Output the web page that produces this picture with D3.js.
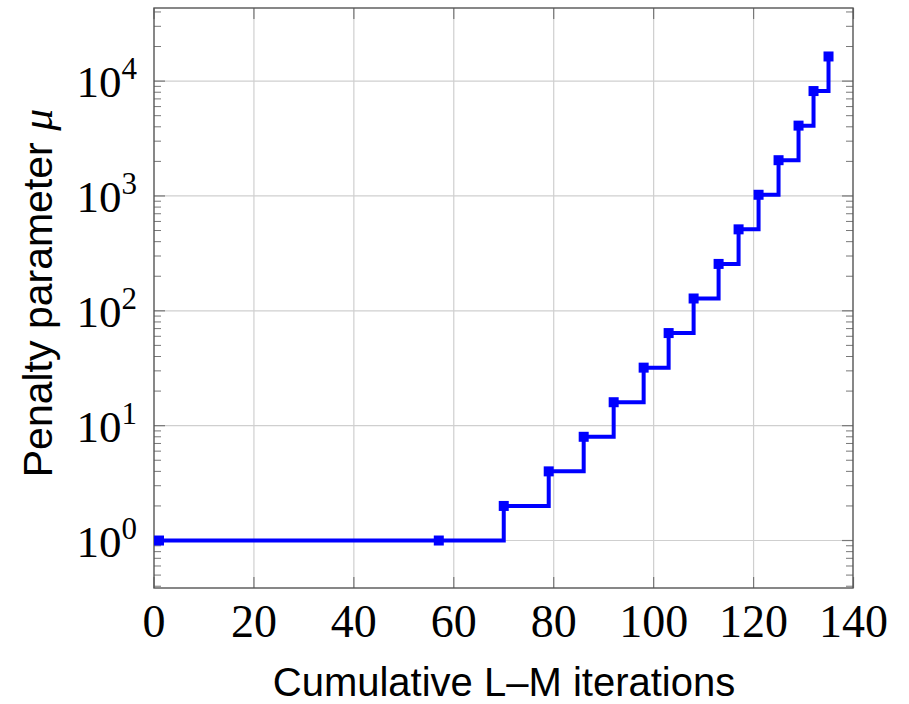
<!DOCTYPE html>
<html>
<head>
<meta charset="utf-8">
<script src="https://cdn.jsdelivr.net/npm/d3@7"></script>
<style>
  body { margin: 0; background: #fff; }
  svg { display: block; }
</style>
</head>
<body>
<svg id="chart" width="909" height="704"></svg>
<script>
// data
var iterations = [1, 57, 70, 79, 86, 92, 98, 103, 108, 113, 117, 121, 125, 129, 132, 135];
var mu = [1, 1, 2, 4, 8, 16, 32, 64, 128, 256, 512, 1024, 2048, 4096, 8192, 16384];
var xTicks = [0, 20, 40, 60, 80, 100, 120, 140];
var yTickExps = [0, 1, 2, 3, 4];

var svg = d3.select("#chart");
var pLeft = 154, pRight = 853, pTop = 8, pBottom = 588;

var x = d3.scaleLinear().domain([0, 140]).range([pLeft, pRight + 0.5]);
var y = d3.scaleLog().domain([0.386, 43300]).range([pBottom, pTop]);

var data = iterations.map(function(d, i) { return {it: d, mu: mu[i]}; });

var g = svg.append("g");

// grid
g.selectAll(".vgrid")
    .data(xTicks.filter(function(d) { return d > 0 && d < 140; }))
    .enter().append("line")
    .attr("x1", function(d) { return x(d); })
    .attr("x2", function(d) { return x(d); })
    .attr("y1", pTop).attr("y2", pBottom)
    .attr("stroke", "#cfcfcf").attr("stroke-width", 1.2);

g.selectAll(".hgrid")
    .data(yTickExps)
    .enter().append("line")
    .attr("x1", pLeft).attr("x2", pRight)
    .attr("y1", function(d) { return y(Math.pow(10, d)); })
    .attr("y2", function(d) { return y(Math.pow(10, d)); })
    .attr("stroke", "#cfcfcf").attr("stroke-width", 1.2);

// minor y ticks (both sides, inward)
var minor = [];
for (var e = -1; e <= 4; e++) {
    for (var k = 2; k <= 9; k++) {
        var v = k * Math.pow(10, e);
        if (v > y.domain()[0] && v < y.domain()[1]) minor.push(v);
    }
}
var tickCol = "#777";
minor.forEach(function(v) {
    g.append("line").attr("x1", pLeft).attr("x2", pLeft + 7)
        .attr("y1", y(v)).attr("y2", y(v)).attr("stroke", tickCol).attr("stroke-width", 1);
    g.append("line").attr("x1", pRight).attr("x2", pRight - 7)
        .attr("y1", y(v)).attr("y2", y(v)).attr("stroke", tickCol).attr("stroke-width", 1);
});

// major y ticks
yTickExps.forEach(function(d) {
    var yy = y(Math.pow(10, d));
    g.append("line").attr("x1", pLeft).attr("x2", pLeft + 11)
        .attr("y1", yy).attr("y2", yy).attr("stroke", tickCol).attr("stroke-width", 1.2);
    g.append("line").attr("x1", pRight).attr("x2", pRight - 11)
        .attr("y1", yy).attr("y2", yy).attr("stroke", tickCol).attr("stroke-width", 1.2);
});

// major x ticks
xTicks.forEach(function(d) {
    var xx = x(d);
    g.append("line").attr("x1", xx).attr("x2", xx)
        .attr("y1", pBottom).attr("y2", pBottom - 11).attr("stroke", tickCol).attr("stroke-width", 1.2);
    g.append("line").attr("x1", xx).attr("x2", xx)
        .attr("y1", pTop).attr("y2", pTop + 11).attr("stroke", tickCol).attr("stroke-width", 1.2);
});

// frame
g.append("rect")
    .attr("x", pLeft).attr("y", pTop)
    .attr("width", pRight - pLeft).attr("height", pBottom - pTop)
    .attr("fill", "none").attr("stroke", "#555").attr("stroke-width", 1.4);

// step line
var line = d3.line()
    .x(function(d) { return x(d.it); })
    .y(function(d) { return y(d.mu); })
    .curve(d3.curveStepAfter);

g.append("path")
    .datum(data)
    .attr("d", line)
    .attr("fill", "none")
    .attr("stroke", "#0000ff")
    .attr("stroke-width", 4);

g.selectAll(".mark")
    .data(data)
    .enter().append("rect")
    .attr("x", function(d) { return x(d.it) - 5; })
    .attr("y", function(d) { return y(d.mu) - 5; })
    .attr("width", 10).attr("height", 10)
    .attr("fill", "#0000ff");

// tick labels
g.selectAll(".xlab")
    .data(xTicks)
    .enter().append("text")
    .attr("x", function(d) { return x(d); })
    .attr("y", 637)
    .attr("text-anchor", "middle")
    .style("font-family", "'Liberation Serif', serif")
    .style("font-size", "46px")
    .text(function(d) { return d; });

yTickExps.forEach(function(d) {
    var t = g.append("text")
        .attr("x", 137)
        .attr("y", y(Math.pow(10, d)) + 16)
        .attr("text-anchor", "end")
        .style("font-family", "'Liberation Serif', serif")
        .style("font-size", "45px");
    t.append("tspan").text("10");
    t.append("tspan").attr("dy", -18).style("font-size", "31px").text(d);
});

// axis titles
svg.append("text")
    .attr("x", 504)
    .attr("y", 696)
    .attr("text-anchor", "middle")
    .style("font-family", "'Liberation Sans', sans-serif")
    .style("font-size", "40px")
    .text("Cumulative L\u2013M iterations");

var yt = svg.append("text")
    .attr("transform", "translate(52,293) rotate(-90)")
    .attr("text-anchor", "middle")
    .style("font-family", "'Liberation Sans', sans-serif")
    .style("font-size", "41px");
yt.append("tspan").text("Penalty parameter ");
yt.append("tspan")
    .style("font-family", "'Liberation Serif', serif")
    .style("font-style", "italic")
    .style("font-size", "44px")
    .text("\u03bc");
</script>
</body>
</html>
